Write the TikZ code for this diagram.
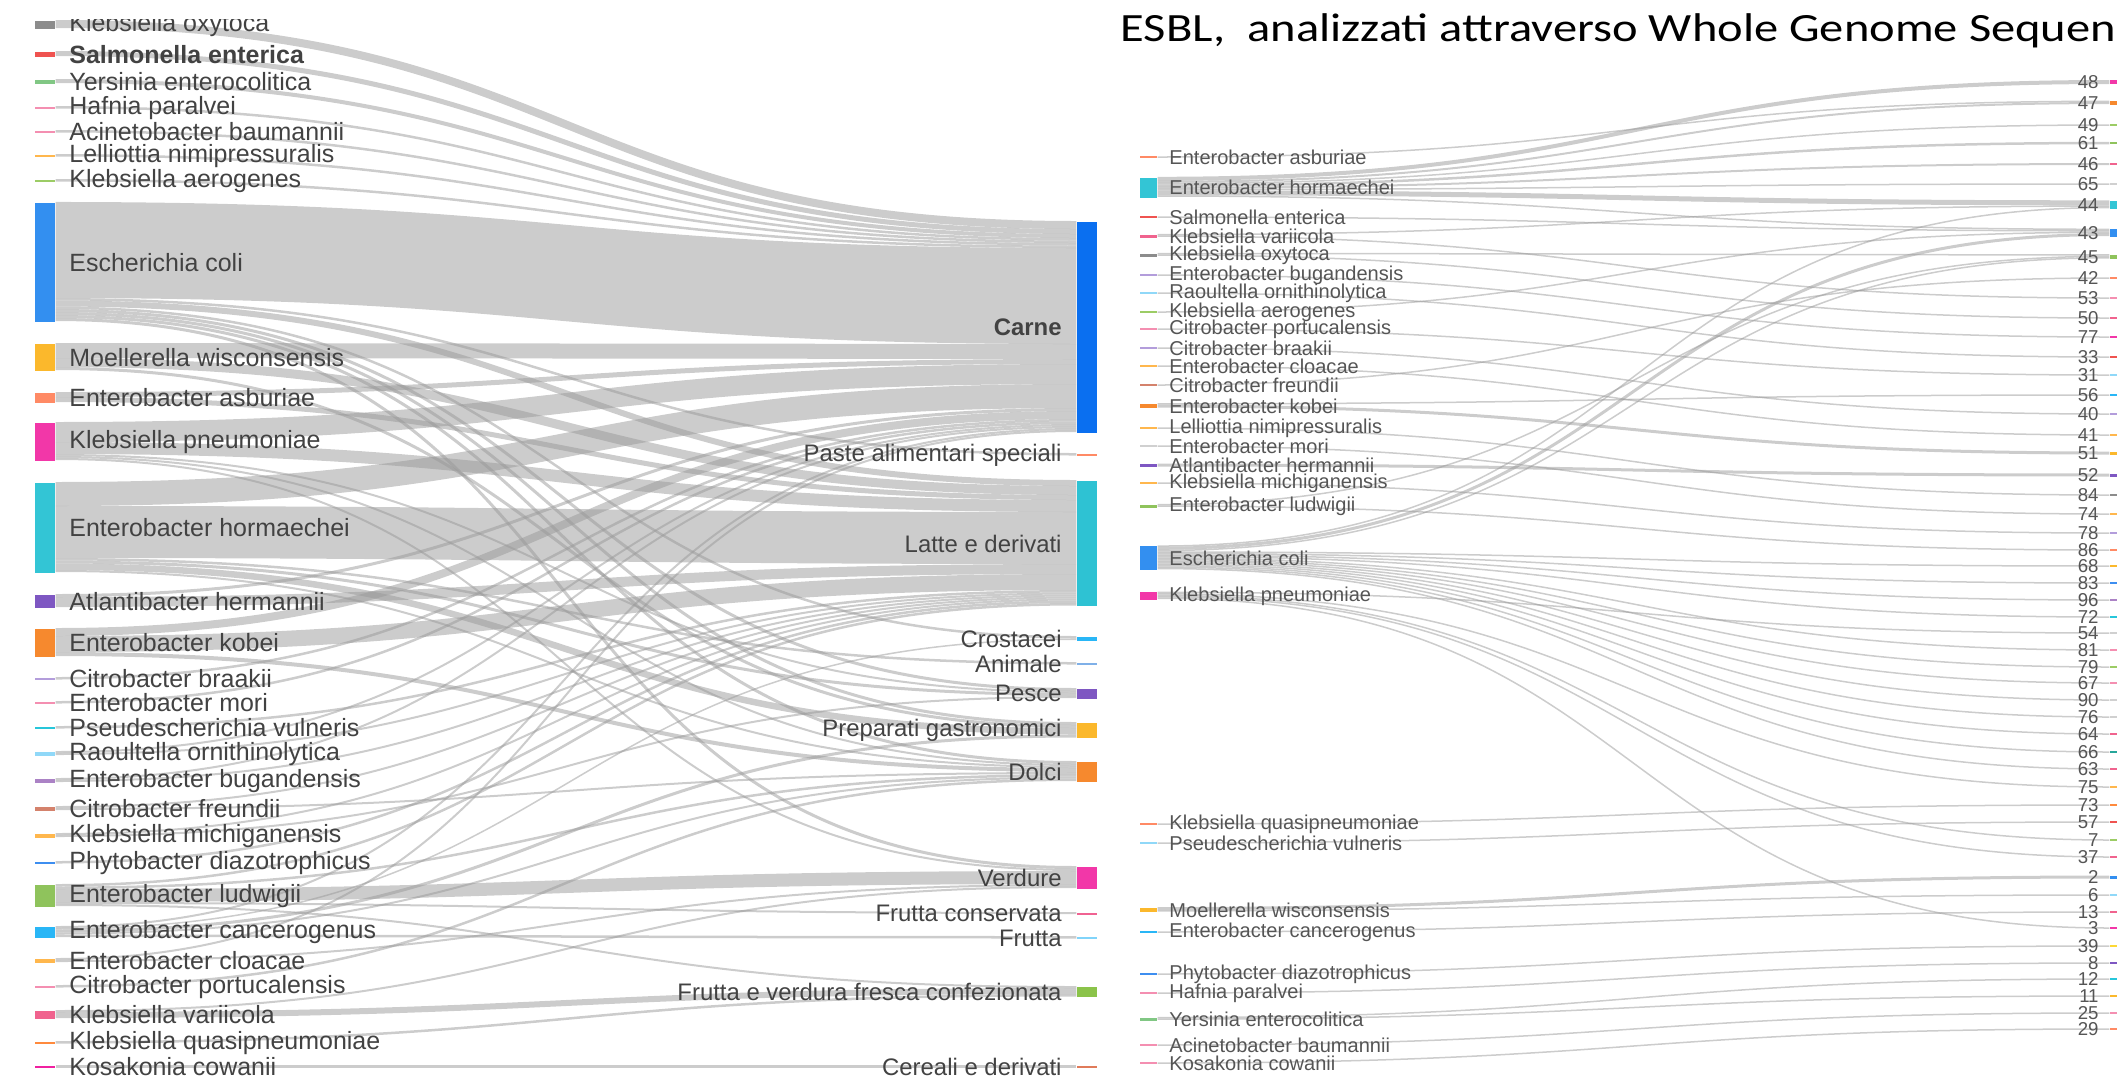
\documentclass[tikz,border=0pt]{standalone}
\usepackage{fontspec}
\setmainfont{Liberation Sans}
\newfontfamily\titlefont{Carlito}
\usepackage{graphicx}
\usetikzlibrary{positioning}
\usetikzlibrary{calc}
\definecolor{cKox}{HTML}{8C8C8C}
\definecolor{cSal}{HTML}{EF5350}
\definecolor{cYer}{HTML}{81C784}
\definecolor{cPnk}{HTML}{F48FB1}
\definecolor{cLor}{HTML}{FFB74D}
\definecolor{cLgr}{HTML}{9CCC65}
\definecolor{cEco}{HTML}{338FF0}
\definecolor{cMoe}{HTML}{FBB82C}
\definecolor{cAsb}{HTML}{FF8A65}
\definecolor{cKpn}{HTML}{F237A8}
\definecolor{cHor}{HTML}{33C5D5}
\definecolor{cHer}{HTML}{7E57C2}
\definecolor{cKob}{HTML}{F6892E}
\definecolor{cLil}{HTML}{B39DDB}
\definecolor{cCya}{HTML}{26C6DA}
\definecolor{cLbl}{HTML}{90D8F8}
\definecolor{cPur}{HTML}{AB82C5}
\definecolor{cBro}{HTML}{D4826C}
\definecolor{cBlu}{HTML}{3D8EF0}
\definecolor{cLud}{HTML}{8FC35C}
\definecolor{cCan}{HTML}{29B6F6}
\definecolor{cVar}{HTML}{F0638E}
\definecolor{cQua}{HTML}{FF8A3D}
\definecolor{cKos}{HTML}{F020A0}
\definecolor{cCar}{HTML}{0A6FF0}
\definecolor{cLat}{HTML}{2EC2D3}
\definecolor{cAni}{HTML}{7FB0E8}
\definecolor{cFrc}{HTML}{F06292}
\definecolor{cFru}{HTML}{81D4FA}
\definecolor{cFvf}{HTML}{8BC34A}
\definecolor{cCer}{HTML}{E07B5A}
\definecolor{cLgy}{HTML}{D0D0D0}
\definecolor{cTea}{HTML}{26A69A}
\definecolor{cYel}{HTML}{FDD835}
\definecolor{labgray}{HTML}{424242}
\definecolor{numgray}{HTML}{555555}
\pgfdeclarelayer{bg}
\pgfsetlayers{bg,main}

\begin{document}
\begin{tikzpicture}
[x=0.01cm,y=-0.01cm,
sbar/.style={rectangle,inner sep=0pt,minimum width=0.2cm,minimum height=#1*0.01cm,anchor=north},
tbar/.style={rectangle,inner sep=0pt,minimum width=0.2cm,minimum height=#1*0.01cm,anchor=north},
rbar/.style={rectangle,inner sep=0pt,minimum width=0.17cm,minimum height=#1*0.01cm},
nbar/.style={rectangle,inner sep=0pt,minimum width=0.08cm,minimum height=#1*0.01cm},
slab/.style={inner sep=0pt,xshift=0.13cm,text=labgray,font=\fontsize{7.1}{8.5}\selectfont},
tlab/.style={inner sep=0pt,xshift=-0.14cm,text=labgray,font=\fontsize{6.8}{8}\selectfont},
rlab/.style={inner sep=0pt,xshift=0.11cm,text=numgray,font=\fontsize{5.7}{6.8}\selectfont},
nlab/.style={inner sep=0pt,xshift=-0.1cm,text=numgray,font=\fontsize{5.3}{6.3}\selectfont},
band/.style={draw=black!40,draw opacity=0.5,line width=#1*0.2845pt},
lc/.style={out=0,in=180,looseness=1.28}]
\useasboundingbox (0,0) rectangle (2117,1078);

\node[sbar=8,fill=cKox,label={[slab]right:Klebsiella oxytoca}] (101) at (45,20) {};
\node[sbar=5,fill=cSal,label={[slab,font=\bfseries\fontsize{7.1}{8.5}\selectfont]right:Salmonella enterica}] (102) at (45,51) {};
\node[sbar=4,fill=cYer,label={[slab]right:Yersinia enterocolitica}] (103) at (45,79) {};
\node[sbar=2.5,fill=cPnk,label={[slab]right:Hafnia paralvei}] (104) at (45,106) {};
\node[sbar=2.5,fill=cPnk,label={[slab]right:Acinetobacter baumannii}] (105) at (45,130) {};
\node[sbar=2.5,fill=cLor,label={[slab]right:Lelliottia nimipressuralis}] (106) at (45,154) {};
\node[sbar=2.5,fill=cLgr,label={[slab]right:Klebsiella aerogenes}] (107) at (45,179) {};
\node[sbar=119,fill=cEco,label={[slab]right:Escherichia coli}] (108) at (45,202) {};
\node[sbar=27,fill=cMoe,label={[slab]right:Moellerella wisconsensis}] (109) at (45,343) {};
\node[sbar=10,fill=cAsb,label={[slab]right:Enterobacter asburiae}] (110) at (45,392) {};
\node[sbar=38,fill=cKpn,label={[slab]right:Klebsiella pneumoniae}] (111) at (45,422) {};
\node[sbar=90,fill=cHor,label={[slab]right:Enterobacter hormaechei}] (112) at (45,482) {};
\node[sbar=13,fill=cHer,label={[slab]right:Atlantibacter hermannii}] (113) at (45,594) {};
\node[sbar=28,fill=cKob,label={[slab]right:Enterobacter kobei}] (114) at (45,628) {};
\node[sbar=2.5,fill=cLil,label={[slab]right:Citrobacter braakii}] (115) at (45,677) {};
\node[sbar=2.5,fill=cPnk,label={[slab]right:Enterobacter mori}] (116) at (45,701) {};
\node[sbar=2.5,fill=cCya,label={[slab]right:Pseudescherichia vulneris}] (117) at (45,726) {};
\node[sbar=4,fill=cLbl,label={[slab]right:Raoultella ornithinolytica}] (118) at (45,751) {};
\node[sbar=4,fill=cPur,label={[slab]right:Enterobacter bugandensis}] (119) at (45,778) {};
\node[sbar=4,fill=cBro,label={[slab]right:Citrobacter freundii}] (120) at (45,806) {};
\node[sbar=4,fill=cLor,label={[slab]right:Klebsiella michiganensis}] (121) at (45,833) {};
\node[sbar=2.5,fill=cBlu,label={[slab]right:Phytobacter diazotrophicus}] (122) at (45,861) {};
\node[sbar=22,fill=cLud,label={[slab]right:Enterobacter ludwigii}] (123) at (45,884) {};
\node[sbar=11,fill=cCan,label={[slab]right:Enterobacter cancerogenus}] (124) at (45,926) {};
\node[sbar=4,fill=cLor,label={[slab]right:Enterobacter cloacae}] (125) at (45,958) {};
\node[sbar=2.5,fill=cPnk,label={[slab]right:Citrobacter portucalensis}] (126) at (45,985) {};
\node[sbar=8,fill=cVar,label={[slab]right:Klebsiella variicola}] (127) at (45,1010) {};
\node[sbar=2.5,fill=cQua,label={[slab]right:Klebsiella quasipneumoniae}] (128) at (45,1041) {};
\node[sbar=2.5,fill=cKos,label={[slab]right:Kosakonia cowanii}] (129) at (45,1065) {};

\node[tbar=211,fill=cCar,label={[tlab,font=\bfseries\fontsize{6.8}{8}\selectfont]left:Carne}] (201) at (1087,221) {};
\node[tbar=2.5,fill=cAsb,label={[tlab]left:Paste alimentari speciali}] (202) at (1087,453) {};
\node[tbar=125.5,fill=cLat,label={[tlab]left:Latte e derivati}] (203) at (1087,480) {};
\node[tbar=4,fill=cCan,label={[tlab]left:Crostacei}] (204) at (1087,636) {};
\node[tbar=2.5,fill=cAni,label={[tlab]left:Animale}] (205) at (1087,662) {};
\node[tbar=10,fill=cHer,label={[tlab]left:Pesce}] (206) at (1087,688) {};
\node[tbar=15.5,fill=cMoe,label={[tlab]left:Preparati gastronomici}] (207) at (1087,722) {};
\node[tbar=20,fill=cKob,label={[tlab]left:Dolci}] (208) at (1087,761) {};
\node[tbar=22,fill=cKpn,label={[tlab]left:Verdure}] (209) at (1087,866) {};
\node[tbar=2,fill=cFrc,label={[tlab]left:Frutta conservata}] (210) at (1087,912) {};
\node[tbar=2.5,fill=cFru,label={[tlab]left:Frutta}] (211) at (1087,936) {};
\node[tbar=10.5,fill=cFvf,label={[tlab]left:Frutta e verdura fresca confezionata}] (212) at (1087,986) {};
\node[tbar=2.5,fill=cCer,label={[tlab]left:Cereali e derivati}] (213) at (1087,1065) {};

\node[rbar=2,fill=cAsb,label={[rlab]right:Enterobacter asburiae}] (301) at (1148.5,157) {};
\node[rbar=20,fill=cHor,label={[rlab]right:Enterobacter hormaechei}] (302) at (1148.5,187.5) {};
\node[rbar=2,fill=cSal,label={[rlab]right:Salmonella enterica}] (303) at (1148.5,217) {};
\node[rbar=3,fill=cVar,label={[rlab]right:Klebsiella variicola}] (304) at (1148.5,236) {};
\node[rbar=3,fill=cKox,label={[rlab]right:Klebsiella oxytoca}] (305) at (1148.5,255) {};
\node[rbar=2,fill=cLil,label={[rlab]right:Enterobacter bugandensis}] (306) at (1148.5,275) {};
\node[rbar=2,fill=cLbl,label={[rlab]right:Raoultella ornithinolytica}] (307) at (1148.5,293) {};
\node[rbar=2,fill=cLgr,label={[rlab]right:Klebsiella aerogenes}] (308) at (1148.5,312) {};
\node[rbar=2,fill=cPnk,label={[rlab]right:Citrobacter portucalensis}] (309) at (1148.5,329) {};
\node[rbar=2,fill=cLil,label={[rlab]right:Citrobacter braakii}] (310) at (1148.5,348) {};
\node[rbar=2,fill=cLor,label={[rlab]right:Enterobacter cloacae}] (311) at (1148.5,366) {};
\node[rbar=2,fill=cBro,label={[rlab]right:Citrobacter freundii}] (312) at (1148.5,385) {};
\node[rbar=4.5,fill=cKob,label={[rlab]right:Enterobacter kobei}] (313) at (1148.5,406) {};
\node[rbar=2,fill=cLor,label={[rlab]right:Lelliottia nimipressuralis}] (314) at (1148.5,428) {};
\node[rbar=2,fill=cLgy,label={[rlab]right:Enterobacter mori}] (315) at (1148.5,446) {};
\node[rbar=3,fill=cHer,label={[rlab]right:Atlantibacter hermannii}] (316) at (1148.5,465) {};
\node[rbar=2,fill=cLor,label={[rlab]right:Klebsiella michiganensis}] (317) at (1148.5,483) {};
\node[rbar=3,fill=cLud,label={[rlab]right:Enterobacter ludwigii}] (318) at (1148.5,506) {};
\node[rbar=24,fill=cEco,label={[rlab]right:Escherichia coli}] (319) at (1148.5,558) {};
\node[rbar=7.5,fill=cKpn,label={[rlab]right:Klebsiella pneumoniae}] (320) at (1148.5,596) {};
\node[rbar=2,fill=cAsb,label={[rlab]right:Klebsiella quasipneumoniae}] (321) at (1148.5,824) {};
\node[rbar=2,fill=cLbl,label={[rlab]right:Pseudescherichia vulneris}] (322) at (1148.5,843) {};
\node[rbar=4.5,fill=cMoe,label={[rlab]right:Moellerella wisconsensis}] (323) at (1148.5,910) {};
\node[rbar=2.5,fill=cCan,label={[rlab]right:Enterobacter cancerogenus}] (324) at (1148.5,932) {};
\node[rbar=2,fill=cBlu,label={[rlab]right:Phytobacter diazotrophicus}] (325) at (1148.5,974) {};
\node[rbar=2,fill=cPnk,label={[rlab]right:Hafnia paralvei}] (326) at (1148.5,993) {};
\node[rbar=3,fill=cYer,label={[rlab]right:Yersinia enterocolitica}] (327) at (1148.5,1019) {};
\node[rbar=2,fill=cPnk,label={[rlab]right:Acinetobacter baumannii}] (328) at (1148.5,1045) {};
\node[rbar=2,fill=cPnk,label={[rlab]right:Kosakonia cowanii}] (329) at (1148.5,1063) {};

\node[nbar=4,fill=cKpn,label={[nlab]left:48}] (401) at (2114,82) {};
\node[nbar=3.5,fill=cKob,label={[nlab]left:47}] (402) at (2114,103) {};
\node[nbar=2.5,fill=cLgr,label={[nlab]left:49}] (403) at (2114,125) {};
\node[nbar=2.5,fill=cLud,label={[nlab]left:61}] (404) at (2114,143) {};
\node[nbar=2,fill=cVar,label={[nlab]left:46}] (405) at (2114,164) {};
\node[nbar=2.5,fill=cLgy,label={[nlab]left:65}] (406) at (2114,184) {};
\node[nbar=8,fill=cHor,label={[nlab]left:44}] (407) at (2114,205) {};
\node[nbar=7.5,fill=cEco,label={[nlab]left:43}] (408) at (2114,233) {};
\node[nbar=4.5,fill=cLud,label={[nlab]left:45}] (409) at (2114,257) {};
\node[nbar=2.5,fill=cAsb,label={[nlab]left:42}] (410) at (2114,278) {};
\node[nbar=2.5,fill=cPnk,label={[nlab]left:53}] (411) at (2114,298) {};
\node[nbar=2.5,fill=cVar,label={[nlab]left:50}] (412) at (2114,318) {};
\node[nbar=2.5,fill=cKpn,label={[nlab]left:77}] (413) at (2114,337) {};
\node[nbar=2.5,fill=cSal,label={[nlab]left:33}] (414) at (2114,357) {};
\node[nbar=2.5,fill=cLbl,label={[nlab]left:31}] (415) at (2114,375) {};
\node[nbar=2.5,fill=cCan,label={[nlab]left:56}] (416) at (2114,395) {};
\node[nbar=2.5,fill=cLil,label={[nlab]left:40}] (417) at (2114,414) {};
\node[nbar=2.5,fill=cLor,label={[nlab]left:41}] (418) at (2114,435) {};
\node[nbar=3,fill=cMoe,label={[nlab]left:51}] (419) at (2114,453) {};
\node[nbar=3,fill=cHer,label={[nlab]left:52}] (420) at (2114,475) {};
\node[nbar=2.5,fill=cKox,label={[nlab]left:84}] (421) at (2114,495) {};
\node[nbar=2.5,fill=cLor,label={[nlab]left:74}] (422) at (2114,514) {};
\node[nbar=2.5,fill=cLil,label={[nlab]left:78}] (423) at (2114,533) {};
\node[nbar=2.5,fill=cAsb,label={[nlab]left:86}] (424) at (2114,550) {};
\node[nbar=2.5,fill=cMoe,label={[nlab]left:68}] (425) at (2114,566) {};
\node[nbar=2.5,fill=cBlu,label={[nlab]left:83}] (426) at (2114,583) {};
\node[nbar=2.5,fill=cPur,label={[nlab]left:96}] (427) at (2114,600) {};
\node[nbar=2.5,fill=cCya,label={[nlab]left:72}] (428) at (2114,617) {};
\node[nbar=2.5,fill=cLgy,label={[nlab]left:54}] (429) at (2114,633) {};
\node[nbar=2.5,fill=cPnk,label={[nlab]left:81}] (430) at (2114,650) {};
\node[nbar=2.5,fill=cLgr,label={[nlab]left:79}] (431) at (2114,667) {};
\node[nbar=2.5,fill=cPnk,label={[nlab]left:67}] (432) at (2114,683) {};
\node[nbar=2.5,fill=cLgy,label={[nlab]left:90}] (433) at (2114,700) {};
\node[nbar=2.5,fill=cLgy,label={[nlab]left:76}] (434) at (2114,717) {};
\node[nbar=2.5,fill=cVar,label={[nlab]left:64}] (435) at (2114,734) {};
\node[nbar=2.5,fill=cTea,label={[nlab]left:66}] (436) at (2114,752) {};
\node[nbar=2.5,fill=cVar,label={[nlab]left:63}] (437) at (2114,769) {};
\node[nbar=2.5,fill=cLor,label={[nlab]left:75}] (438) at (2114,787) {};
\node[nbar=2.5,fill=cQua,label={[nlab]left:73}] (439) at (2114,805) {};
\node[nbar=2.5,fill=cSal,label={[nlab]left:57}] (440) at (2114,822) {};
\node[nbar=2.5,fill=cLgr,label={[nlab]left:7}] (441) at (2114,840) {};
\node[nbar=2.5,fill=cVar,label={[nlab]left:37}] (442) at (2114,857) {};
\node[nbar=3,fill=cEco,label={[nlab]left:2}] (443) at (2114,877) {};
\node[nbar=2.5,fill=cLbl,label={[nlab]left:6}] (444) at (2114,895) {};
\node[nbar=2.5,fill=cVar,label={[nlab]left:13}] (445) at (2114,912) {};
\node[nbar=2.5,fill=cKpn,label={[nlab]left:3}] (446) at (2114,928) {};
\node[nbar=2.5,fill=cYel,label={[nlab]left:39}] (447) at (2114,946) {};
\node[nbar=2.5,fill=cHer,label={[nlab]left:8}] (448) at (2114,963) {};
\node[nbar=2.5,fill=cCya,label={[nlab]left:12}] (449) at (2114,979) {};
\node[nbar=2.5,fill=cMoe,label={[nlab]left:11}] (450) at (2114,996) {};
\node[nbar=2.5,fill=cPnk,label={[nlab]left:25}] (451) at (2114,1013) {};
\node[nbar=2.5,fill=cAsb,label={[nlab]left:29}] (452) at (2114,1029) {};

\node[anchor=base west,inner sep=0pt] (title) at (1120,41) {\titlefont\fontsize{11.4}{13}\selectfont\scalebox{1.21}[1]{ESBL,~ analizzati attraverso Whole Genome Sequen}};

\begin{pgfonlayer}{bg}
\draw[band=8] ($(101.north east)+(0,4)$) to[lc] ($(201.north west)+(0,4)$);
\draw[band=5] ($(102.north east)+(0,2.5)$) to[lc] ($(201.north west)+(0,10.5)$);
\draw[band=4] ($(103.north east)+(0,2)$) to[lc] ($(201.north west)+(0,15)$);
\draw[band=2.5] ($(104.north east)+(0,1.25)$) to[lc] ($(201.north west)+(0,18.25)$);
\draw[band=2.5] ($(105.north east)+(0,1.25)$) to[lc] ($(201.north west)+(0,20.75)$);
\draw[band=2.5] ($(106.north east)+(0,1.25)$) to[lc] ($(201.north west)+(0,23.25)$);
\draw[band=2.5] ($(107.north east)+(0,1.25)$) to[lc] ($(201.north west)+(0,25.75)$);
\draw[band=96] ($(108.north east)+(0,48)$) to[lc] ($(201.north west)+(0,75)$);
\draw[band=2.5] ($(108.north east)+(0,97.25)$) to[lc] ($(202.north west)+(0,1.25)$);
\draw[band=6] ($(108.north east)+(0,101.5)$) to[lc] ($(203.north west)+(0,3)$);
\draw[band=2.5] ($(108.north east)+(0,105.75)$) to[lc] ($(204.north west)+(0,1.25)$);
\draw[band=3] ($(108.north east)+(0,108.5)$) to[lc] ($(206.north west)+(0,1.5)$);
\draw[band=3] ($(108.north east)+(0,111.5)$) to[lc] ($(207.north west)+(0,1.5)$);
\draw[band=3] ($(108.north east)+(0,114.5)$) to[lc] ($(208.north west)+(0,1.5)$);
\draw[band=3] ($(108.north east)+(0,117.5)$) to[lc] ($(209.north west)+(0,1.5)$);
\draw[band=15] ($(109.north east)+(0,7.5)$) to[lc] ($(201.north west)+(0,130.5)$);
\draw[band=9] ($(109.north east)+(0,19.5)$) to[lc] ($(203.north west)+(0,10.5)$);
\draw[band=3] ($(109.north east)+(0,25.5)$) to[lc] ($(207.north west)+(0,4.5)$);
\draw[band=5] ($(110.north east)+(0,2.5)$) to[lc] ($(201.north west)+(0,140.5)$);
\draw[band=5] ($(110.north east)+(0,7.5)$) to[lc] ($(203.north west)+(0,17.5)$);
\draw[band=20] ($(111.north east)+(0,10)$) to[lc] ($(201.north west)+(0,153)$);
\draw[band=12] ($(111.north east)+(0,26)$) to[lc] ($(203.north west)+(0,26)$);
\draw[band=2] ($(111.north east)+(0,33)$) to[lc] ($(206.north west)+(0,4)$);
\draw[band=2] ($(111.north east)+(0,35)$) to[lc] ($(208.north west)+(0,4)$);
\draw[band=2] ($(111.north east)+(0,37)$) to[lc] ($(209.north west)+(0,4)$);
\draw[band=24] ($(112.north east)+(0,12)$) to[lc] ($(201.north west)+(0,175)$);
\draw[band=52] ($(112.north east)+(0,50)$) to[lc] ($(203.north west)+(0,58)$);
\draw[band=2.5] ($(112.north east)+(0,77.25)$) to[lc] ($(205.north west)+(0,1.25)$);
\draw[band=3] ($(112.north east)+(0,80)$) to[lc] ($(206.north west)+(0,6.5)$);
\draw[band=6.5] ($(112.north east)+(0,84.75)$) to[lc] ($(207.north west)+(0,9.25)$);
\draw[band=2] ($(112.north east)+(0,89)$) to[lc] ($(208.north west)+(0,6)$);
\draw[band=3] ($(113.north east)+(0,1.5)$) to[lc] ($(201.north west)+(0,188.5)$);
\draw[band=10] ($(113.north east)+(0,8)$) to[lc] ($(203.north west)+(0,89)$);
\draw[band=8] ($(114.north east)+(0,4)$) to[lc] ($(201.north west)+(0,194)$);
\draw[band=16] ($(114.north east)+(0,16)$) to[lc] ($(203.north west)+(0,102)$);
\draw[band=4] ($(114.north east)+(0,26)$) to[lc] ($(208.north west)+(0,9)$);
\draw[band=2.5] ($(115.north east)+(0,1.25)$) to[lc] ($(201.north west)+(0,199.25)$);
\draw[band=2.5] ($(116.north east)+(0,1.25)$) to[lc] ($(201.north west)+(0,201.75)$);
\draw[band=2.5] ($(117.north east)+(0,1.25)$) to[lc] ($(203.north west)+(0,111.25)$);
\draw[band=2] ($(118.north east)+(0,1)$) to[lc] ($(201.north west)+(0,204)$);
\draw[band=2] ($(118.north east)+(0,3)$) to[lc] ($(203.north west)+(0,113.5)$);
\draw[band=2] ($(119.north east)+(0,1)$) to[lc] ($(201.north west)+(0,206)$);
\draw[band=2] ($(119.north east)+(0,3)$) to[lc] ($(203.north west)+(0,115.5)$);
\draw[band=2] ($(120.north east)+(0,1)$) to[lc] ($(203.north west)+(0,117.5)$);
\draw[band=2] ($(120.north east)+(0,3)$) to[lc] ($(208.north west)+(0,12)$);
\draw[band=2] ($(121.north east)+(0,1)$) to[lc] ($(203.north west)+(0,119.5)$);
\draw[band=2] ($(121.north east)+(0,3)$) to[lc] ($(206.north west)+(0,9)$);
\draw[band=2.5] ($(122.north east)+(0,1.25)$) to[lc] ($(203.north west)+(0,121.75)$);
\draw[band=2.5] ($(123.north east)+(0,1.25)$) to[lc] ($(203.north west)+(0,124.25)$);
\draw[band=2.5] ($(123.north east)+(0,3.75)$) to[lc] ($(208.north west)+(0,14.25)$);
\draw[band=13] ($(123.north east)+(0,11.5)$) to[lc] ($(209.north west)+(0,11.5)$);
\draw[band=2] ($(123.north east)+(0,19)$) to[lc] ($(210.north west)+(0,1)$);
\draw[band=2] ($(123.north east)+(0,21)$) to[lc] ($(212.north west)+(0,1)$);
\draw[band=2] ($(124.north east)+(0,1)$) to[lc] ($(201.north west)+(0,208)$);
\draw[band=1.5] ($(124.north east)+(0,2.75)$) to[lc] ($(204.north west)+(0,3.25)$);
\draw[band=3] ($(124.north east)+(0,5)$) to[lc] ($(207.north west)+(0,14)$);
\draw[band=2] ($(124.north east)+(0,7.5)$) to[lc] ($(208.north west)+(0,16.5)$);
\draw[band=2.5] ($(124.north east)+(0,9.75)$) to[lc] ($(211.north west)+(0,1.25)$);
\draw[band=2] ($(125.north east)+(0,1)$) to[lc] ($(201.north west)+(0,210)$);
\draw[band=2] ($(125.north east)+(0,3)$) to[lc] ($(209.north west)+(0,19)$);
\draw[band=2.5] ($(126.north east)+(0,1.25)$) to[lc] ($(208.north west)+(0,18.75)$);
\draw[band=2] ($(127.north east)+(0,1)$) to[lc] ($(209.north west)+(0,21)$);
\draw[band=6] ($(127.north east)+(0,5)$) to[lc] ($(212.north west)+(0,5)$);
\draw[band=2.5] ($(128.north east)+(0,1.25)$) to[lc] ($(212.north west)+(0,9.25)$);
\draw[band=2.5] ($(129.north east)+(0,1.25)$) to[lc] ($(213.north west)+(0,1.25)$);

\draw[band=4] ($(302.north east)+(0,2)$) to[lc] (401.west);
\draw[band=1.5] (301.east) to[lc] ($(402.north west)+(0,0.75)$);
\draw[band=2] ($(302.north east)+(0,5)$) to[lc] ($(402.north west)+(0,2.5)$);
\draw[band=1.5] ($(302.north east)+(0,6.75)$) to[lc] (403.west);
\draw[band=2.5] ($(302.north east)+(0,8.75)$) to[lc] (404.west);
\draw[band=2] ($(302.north east)+(0,11)$) to[lc] (405.west);
\draw[band=1.5] ($(302.north east)+(0,12.75)$) to[lc] (406.west);
\draw[band=5] ($(302.north east)+(0,16)$) to[lc] ($(407.north west)+(0,2.5)$);
\draw[band=1.5] ($(302.north east)+(0,19.25)$) to[lc] ($(408.north west)+(0,0.75)$);
\draw[band=1.5] (303.east) to[lc] ($(408.north west)+(0,2.25)$);
\draw[band=1.5] ($(304.north east)+(0,0.75)$) to[lc] ($(407.north west)+(0,5.75)$);
\draw[band=1.5] ($(304.north east)+(0,2.25)$) to[lc] (411.west);
\draw[band=1.5] ($(305.north east)+(0,0.75)$) to[lc] ($(409.north west)+(0,0.75)$);
\draw[band=1.5] ($(305.north east)+(0,2.25)$) to[lc] (412.west);
\draw[band=1.5] (306.east) to[lc] (413.west);
\draw[band=1.5] (307.east) to[lc] (414.west);
\draw[band=1.5] (308.east) to[lc] ($(408.north west)+(0,3.75)$);
\draw[band=1.5] (309.east) to[lc] (415.west);
\draw[band=1.5] (310.east) to[lc] (417.west);
\draw[band=1.5] (311.east) to[lc] (418.west);
\draw[band=1.5] (312.east) to[lc] (410.west);
\draw[band=1.5] ($(313.north east)+(0,0.75)$) to[lc] (416.west);
\draw[band=3] ($(313.north east)+(0,3)$) to[lc] (419.west);
\draw[band=1.5] (314.east) to[lc] (421.west);
\draw[band=1.5] (315.east) to[lc] (422.west);
\draw[band=3] (316.east) to[lc] (420.west);
\draw[band=1.5] (317.east) to[lc] (423.west);
\draw[band=1.5] ($(318.north east)+(0,0.75)$) to[lc] ($(409.north west)+(0,2.25)$);
\draw[band=1.5] ($(318.north east)+(0,2.25)$) to[lc] (424.west);
\draw[band=1.5] ($(319.north east)+(0,0.75)$) to[lc] ($(407.north west)+(0,7.25)$);
\draw[band=3] ($(319.north east)+(0,3)$) to[lc] ($(408.north west)+(0,6)$);
\draw[band=1.5] ($(319.north east)+(0,5.25)$) to[lc] ($(409.north west)+(0,3.75)$);
\draw[band=1.5] ($(319.north east)+(0,6.75)$) to[lc] (425.west);
\draw[band=1.5] ($(319.north east)+(0,8.25)$) to[lc] (426.west);
\draw[band=1.5] ($(319.north east)+(0,9.75)$) to[lc] (427.west);
\draw[band=1.5] ($(319.north east)+(0,11.25)$) to[lc] (428.west);
\draw[band=1.5] ($(319.north east)+(0,12.75)$) to[lc] (430.west);
\draw[band=1.5] ($(319.north east)+(0,14.25)$) to[lc] (431.west);
\draw[band=1.5] ($(319.north east)+(0,15.75)$) to[lc] (432.west);
\draw[band=1.5] ($(319.north east)+(0,17.25)$) to[lc] (433.west);
\draw[band=1.5] ($(319.north east)+(0,18.75)$) to[lc] (434.west);
\draw[band=1.5] ($(319.north east)+(0,20.25)$) to[lc] (435.west);
\draw[band=1.5] ($(319.north east)+(0,21.75)$) to[lc] (436.west);
\draw[band=1.5] ($(319.north east)+(0,23.25)$) to[lc] (437.west);
\draw[band=1.5] ($(320.north east)+(0,0.75)$) to[lc] (429.west);
\draw[band=1.5] ($(320.north east)+(0,2.25)$) to[lc] (438.west);
\draw[band=1.5] ($(320.north east)+(0,3.75)$) to[lc] (441.west);
\draw[band=1.5] ($(320.north east)+(0,5.25)$) to[lc] (442.west);
\draw[band=1.5] ($(320.north east)+(0,6.75)$) to[lc] (446.west);
\draw[band=1.5] (321.east) to[lc] (439.west);
\draw[band=1.5] (322.east) to[lc] (440.west);
\draw[band=3] ($(323.north east)+(0,1.5)$) to[lc] (443.west);
\draw[band=1.5] ($(323.north east)+(0,3.75)$) to[lc] (444.west);
\draw[band=1.5] (324.east) to[lc] (445.west);
\draw[band=1.5] (325.east) to[lc] (447.west);
\draw[band=1.5] (326.east) to[lc] (448.west);
\draw[band=1.5] ($(327.north east)+(0,0.75)$) to[lc] (449.west);
\draw[band=1.5] ($(327.north east)+(0,2.25)$) to[lc] (450.west);
\draw[band=1.5] (328.east) to[lc] (451.west);
\draw[band=1.5] (329.east) to[lc] (452.west);
\end{pgfonlayer}

\fill[white] (0,0) rectangle (820,18.5);
\end{tikzpicture}
\end{document}
